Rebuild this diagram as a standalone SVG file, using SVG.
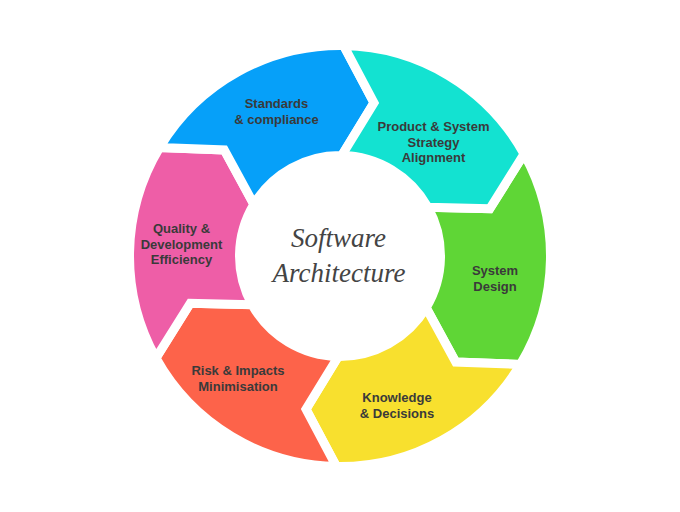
<svg xmlns="http://www.w3.org/2000/svg" width="680" height="512" viewBox="0 0 680 512">
<style>
.seg{stroke:#ffffff;stroke-width:9;stroke-linejoin:miter}
.lbl{font-family:"Liberation Sans",Arial,sans-serif;font-weight:bold;font-size:13px;fill:#3a3a3a;text-anchor:middle}
.title{font-family:"Liberation Serif","Times New Roman",serif;font-style:italic;font-size:27px;fill:#444444;text-anchor:middle}
</style>
<rect width="680" height="512" fill="#ffffff"/>
<g id="green">
<path class="seg" fill="#5fd636" d="M524.11 153.95 A210.5 210.5 0 0 1 520.43 364.42 L455.75 362.07 L426.15 307.76 A100.5 100.5 0 0 0 427.90 207.28 L489.73 208.79 Z"/>
<text class="lbl" x="495" y="274.5">System</text>
<text class="lbl" x="495" y="290.5">Design</text>
</g>
<g id="yellow">
<path class="seg" fill="#f8e02e" d="M520.43 364.42 A210.5 210.5 0 0 1 336.33 466.47 L306.02 409.28 L338.25 356.48 A100.5 100.5 0 0 0 426.15 307.76 L455.75 362.07 Z"/>
<text class="lbl" x="397" y="402">Knowledge</text>
<text class="lbl" x="397" y="417.5">&amp; Decisions</text>
</g>
<g id="red">
<path class="seg" fill="#fd634a" d="M336.33 466.47 A210.5 210.5 0 0 1 155.89 358.05 L190.27 303.21 L252.10 304.72 A100.5 100.5 0 0 0 338.25 356.48 L306.02 409.28 Z"/>
<text class="lbl" x="238" y="375">Risk &amp; Impacts</text>
<text class="lbl" x="238" y="390.5">Minimisation</text>
</g>
<g id="pink">
<path class="seg" fill="#ee5ea7" d="M155.89 358.05 A210.5 210.5 0 0 1 159.57 147.58 L224.25 149.93 L253.85 204.24 A100.5 100.5 0 0 0 252.10 304.72 L190.27 303.21 Z"/>
<text class="lbl" x="181.5" y="233">Quality &amp;</text>
<text class="lbl" x="181.5" y="248.5">Development</text>
<text class="lbl" x="181.5" y="264">Efficiency</text>
</g>
<g id="blue">
<path class="seg" fill="#06a0f9" d="M159.57 147.58 A210.5 210.5 0 0 1 343.67 45.53 L373.98 102.72 L341.75 155.52 A100.5 100.5 0 0 0 253.85 204.24 L224.25 149.93 Z"/>
<text class="lbl" x="276.5" y="107.5">Standards</text>
<text class="lbl" x="276.5" y="124">&amp; compliance</text>
</g>
<g id="teal">
<path class="seg" fill="#13e2d1" d="M343.67 45.53 A210.5 210.5 0 0 1 524.11 153.95 L489.73 208.79 L427.90 207.28 A100.5 100.5 0 0 0 341.75 155.52 L373.98 102.72 Z"/>
<text class="lbl" x="433.5" y="131">Product &amp; System</text>
<text class="lbl" x="433.5" y="146.5">Strategy</text>
<text class="lbl" x="433.5" y="162">Alignment</text>
</g>
<g id="center">
<text class="title" x="338.5" y="246.5">Software</text>
<text class="title" x="339" y="281.5">Architecture</text>
</g>
<g id="connectors"></g>
</svg>
